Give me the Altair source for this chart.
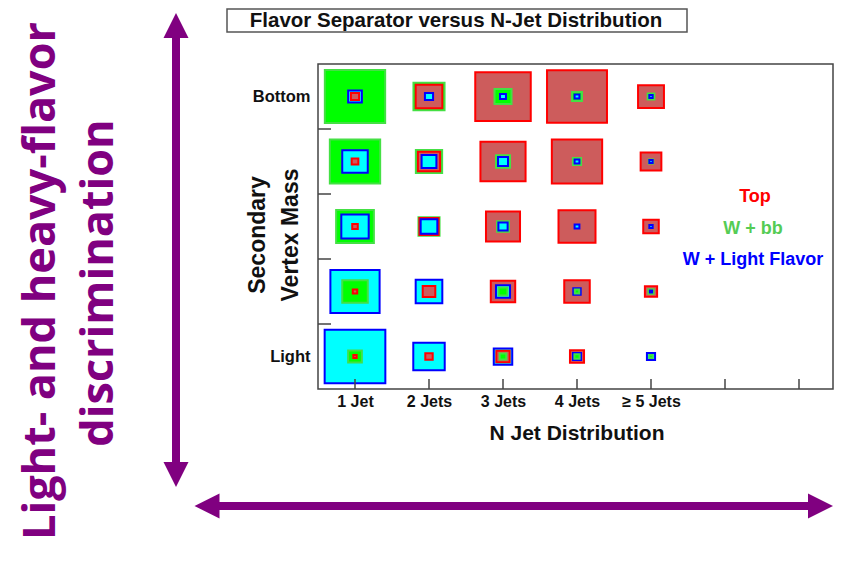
import altair as alt
import pandas as pd

# ---------------- data ----------------
jets = [1, 2, 3, 4, 5]
jet_labels = ["1 Jet", "2 Jets", "3 Jets", "4 Jets", "\u2265 5 Jets"]
extra_ticks = [6, 7]
rows = [5, 4, 3, 2, 1]                 # Bottom (top row) ... Light (bottom row)
row_labels = {5: "Bottom", 1: "Light"}
row_bounds = [1.5, 2.5, 3.5, 4.5]

procs = ["Top", "W + bb", "W + Light Flavor"]
fills = ["#cd5c5c", "#00ff00", "#00ffff"]
strokes = ["#ff0000", "#44e044", "#0000ff"]
legend_colors = ["#ff0000", "#55cc55", "#0000ff"]

# relative box size (fraction of a bin), rows Bottom -> Light, columns 1..>=5 jets
top_frac = [
    [0.11, 0.36, 0.75, 0.81, 0.35],
    [0.09, 0.30, 0.61, 0.68, 0.28],
    [0.075, 0.26, 0.46, 0.50, 0.21],
    [0.06, 0.17, 0.33, 0.345, 0.165],
    [0.045, 0.10, 0.18, 0.19, 0.0],
]
wbb_frac = [
    [0.815, 0.42, 0.23, 0.135, 0.09],
    [0.68, 0.355, 0.19, 0.11, 0.06],
    [0.51, 0.285, 0.16, 0.0, 0.0],
    [0.345, 0.0, 0.12, 0.06, 0.07],
    [0.185, 0.0, 0.09, 0.07, 0.045],
]
wlf_frac = [
    [0.185, 0.11, 0.08, 0.065, 0.045],
    [0.345, 0.20, 0.135, 0.065, 0.045],
    [0.37, 0.225, 0.125, 0.065, 0.045],
    [0.665, 0.36, 0.19, 0.10, 0.03],
    [0.82, 0.425, 0.25, 0.11, 0.11],
]

title_text = "Flavor Separator versus N-Jet Distribution"
x_title = "N Jet Distribution"
y_title = ["Secondary", "Vertex Mass"]
side_text = ["Light- and heavy-flavor", "discrimination"]

# ---------------- layout ----------------
W, H = 515, 325
PURPLE = "#800080"
FONT = "Liberation Sans"

recs = []
for proc, arr in zip(procs, [top_frac, wbb_frac, wlf_frac]):
    for i, r in enumerate(rows):
        for j, jt in enumerate(jets):
            recs.append({"jet": jt, "row": r, "proc": proc, "frac": arr[i][j]})
df = pd.DataFrame(recs)

xscale = alt.Scale(domain=[0.5, 0.5 + W / 74.0], nice=False, zero=False)
yscale = alt.Scale(domain=[0.5, 5.5], nice=False, zero=False)

x_label_expr = "[" + ",".join("'" + s + "'" for s in jet_labels) + "][datum.value - 1]"
y_label_expr = "datum.value == 5 ? '%s' : '%s'" % (row_labels[5], row_labels[1])

xaxis = alt.Axis(values=jets, labelExpr=x_label_expr, tickSize=0, domain=False, grid=False,
                 labelFont=FONT, labelFontWeight="bold", labelFontSize=16, labelColor="#111",
                 labelPadding=4, title=None, labelFlush=False, labelOverlap=False)
yaxis = alt.Axis(values=[1, 5], labelExpr=y_label_expr, tickSize=0, domain=False, grid=False,
                 labelFont=FONT, labelFontWeight="bold", labelFontSize=16.5, labelColor="#111",
                 labelPadding=8, title=None, labelFlush=False, labelOverlap=False,
                 labelBaseline="middle")

boxes = alt.Chart(df).transform_filter("datum.frac > 0").transform_calculate(
    x0="datum.jet - datum.frac / 2", x1="datum.jet + datum.frac / 2",
    y0="datum.row - datum.frac / 2", y1="datum.row + datum.frac / 2",
).mark_rect(strokeWidth=2).encode(
    x=alt.X("x0:Q", scale=xscale, axis=xaxis),
    x2="x1:Q",
    y=alt.Y("y0:Q", scale=yscale, axis=yaxis),
    y2="y1:Q",
    fill=alt.Fill("proc:N", scale=alt.Scale(domain=procs, range=fills), legend=None),
    stroke=alt.Stroke("proc:N", scale=alt.Scale(domain=procs, range=strokes), legend=None),
    order=alt.Order("frac:Q", sort="descending"),
)

xticks = alt.Chart(pd.DataFrame({"t": jets + extra_ticks})).mark_rule(
    color="#444", strokeWidth=1.5).encode(
    x=alt.X("t:Q", scale=xscale, axis=xaxis), y=alt.value(H), y2=alt.value(H - 10))
yticks = alt.Chart(pd.DataFrame({"t": row_bounds})).mark_rule(
    color="#444", strokeWidth=1.5).encode(
    y=alt.Y("t:Q", scale=yscale, axis=yaxis), x=alt.value(0), x2=alt.value(13))


def txt(text, x, y, size, color, angle=0, align="center", font=FONT, weight="bold"):
    return alt.Chart(alt.Data(values=[{"t": text}])).mark_text(
        x=x, y=y, fontSize=size, color=color, angle=angle, align=align,
        baseline="alphabetic", font=font, fontWeight=weight,
    ).encode(text="t:N")


one = alt.Data(values=[{"a": 1}])

title_box = alt.Chart(one).mark_rect(fill="white", stroke="#555", strokeWidth=1.5).encode(
    x=alt.value(-91), x2=alt.value(369), y=alt.value(-55), y2=alt.value(-32))

texts = [
    txt(title_text, 138, -37, 20.5, "#111"),
    txt(x_title, 259, 376, 21, "#111"),
    txt(y_title[0], -53, 171, 23, "#111", angle=270),
    txt(y_title[1], -20, 171, 23, "#111", angle=270),
    txt(procs[0], 437, 137.5, 18, legend_colors[0]),
    txt(procs[1], 435, 169.5, 18, legend_colors[1]),
    txt(procs[2], 435, 200.5, 18, legend_colors[2]),
    txt(side_text[0], -263, 217, 45, PURPLE, angle=270, font="Open Sans"),
    txt(side_text[1], -205, 219, 45, PURPLE, angle=270, font="Open Sans"),
]

vshaft = alt.Chart(one).mark_rule(color=PURPLE, strokeWidth=8, strokeCap="butt").encode(
    x=alt.value(-142), y=alt.value(-27), y2=alt.value(399))
hshaft = alt.Chart(one).mark_rule(color=PURPLE, strokeWidth=8, strokeCap="butt").encode(
    y=alt.value(442), x=alt.value(-99), x2=alt.value(491))


def head(path, x, y):
    return alt.Chart(one).mark_point(shape=path, filled=True, size=625, color=PURPLE,
                                     opacity=1, strokeWidth=0).encode(
        x=alt.value(x), y=alt.value(y))


heads = [
    head("M0,-1L1,1L-1,1Z", -142, -38.5),
    head("M0,1L1,-1L-1,-1Z", -142, 410.5),
    head("M-1,0L1,-1L1,1Z", -111, 442),
    head("M1,0L-1,-1L-1,1Z", 502.5, 442),
]

chart = alt.layer(
    title_box, boxes, xticks, yticks, vshaft, hshaft, *heads, *texts
).properties(
    width=W, height=H,
    autosize=alt.AutoSizeParams(type="none"),
    padding={"left": 310, "top": 56, "right": 1, "bottom": 163},
    background="white",
).configure_view(stroke="#444", strokeWidth=1.5)

chart.save("out.html", embed_options={"renderer": "svg", "actions": False})
